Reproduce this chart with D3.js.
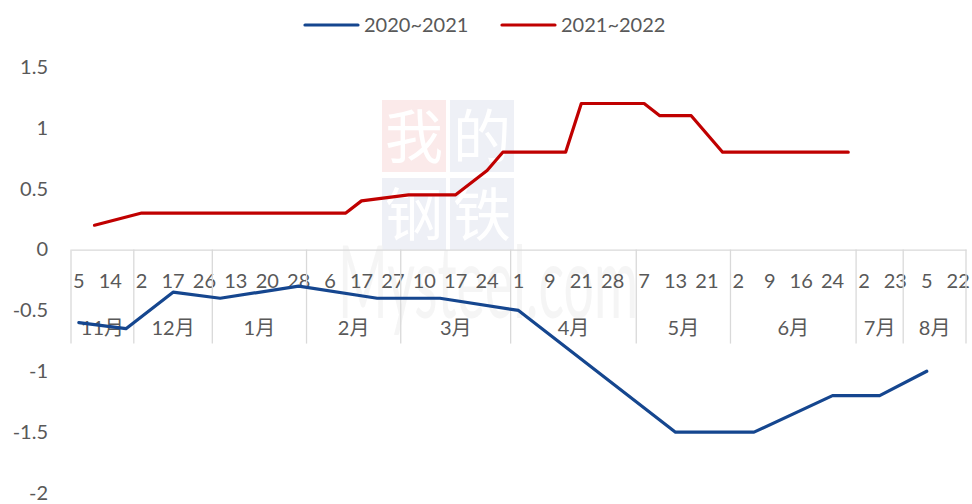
<!DOCTYPE html>
<html>
<head>
<meta charset="utf-8">
<script src="https://cdn.jsdelivr.net/npm/d3@7/dist/d3.min.js"></script>
<style>
  html, body { margin: 0; padding: 0; background: #fff; }
  svg text { font-family: Lato, "Noto Sans CJK SC", sans-serif; }
</style>
</head>
<body>
<svg id="chart" width="972" height="504"></svg>
<script>
// ---- data ----
const months = ["11月", "12月", "1月", "2月", "3月", "4月", "5月", "6月", "7月", "8月"];
const monthDays = [
  [5, 9, 14, 26],
  [2, 10, 17, 21, 26],
  [6, 13, 17, 20, 25, 28],
  [2, 6, 10, 17, 23, 27],
  [3, 10, 14, 17, 21, 24, 31],
  [1, 6, 9, 14, 21, 25, 28, 30],
  [7, 10, 13, 17, 21, 26],
  [2, 6, 9, 13, 16, 20, 24, 28],
  [2, 14, 23],
  [1, 5, 15, 22]
];
const N = null;
const seriesNames = ["2020~2021", "2021~2022"];
const values2020 = [
  -0.6, N, N, -0.65, N, N, -0.35, N, N, -0.4,
  N, N, N, N, -0.3, N, N, N, N, -0.4,
  N, N, N, -0.4, N, N, N, N, -0.5, N,
  N, N, N, N, N, N, N, N, -1.5, N,
  N, N, N, -1.5, N, N, N, N, -1.2, N,
  N, -1.2, N, N, -1.0, N, N
];
const values2021 = [
  N, 0.2, N, N, 0.3, N, N, N, N, N,
  N, N, N, N, N, N, N, 0.3, 0.4, N,
  N, 0.45, N, N, 0.45, N, 0.65, 0.8, N, N,
  N, 0.8, 1.2, N, N, N, 1.2, 1.1, N, 1.1,
  N, 0.8, N, N, N, N, N, N, N, 0.8,
  N, N, N, N, N, N, N
];
const yTicks = [-2, -1.5, -1, -0.5, 0, 0.5, 1, 1.5];
const colors = ["#15468f", "#c00000"];

// ---- build categories ----
const categories = [];
const monthSpans = [];
months.forEach((m, mi) => {
  const start = categories.length;
  monthDays[mi].forEach(d => categories.push({ month: m, day: d }));
  monthSpans.push({ month: m, start, count: monthDays[mi].length });
});
const idx = d3.range(categories.length);

const svg = d3.select("#chart");
const textColor = "#595959";
const gridColor = "#d9d9d9";

const x = d3.scaleBand().domain(idx).range([71, 966]).padding(0);
const bw = x.bandwidth();
const xc = i => x(i) + bw / 2;
const y = d3.scaleLinear().domain([-2, 1.5]).range([493, 67]);
const y0 = y(0);

// ---- watermark ----
const wm = svg.append("g").attr("class", "watermark");
const boxes = [
  { ch: "我", bx: 382, by: 100, fill: "#fbeaea" },
  { ch: "的", bx: 450, by: 100, fill: "#eef0f6" },
  { ch: "钢", bx: 382, by: 178, fill: "#eef0f6" },
  { ch: "铁", bx: 450, by: 178, fill: "#eef0f6" }
];
boxes.forEach(b => {
  wm.append("rect").attr("x", b.bx).attr("y", b.by).attr("width", 64).attr("height", 72).attr("fill", b.fill);
  wm.append("text").attr("x", b.bx + 32).attr("y", b.by + 38).attr("dy", "0.35em")
    .attr("text-anchor", "middle").attr("font-size", 58).attr("fill", "#ffffff").text(b.ch);
});
wm.append("text").attr("x", 338).attr("y", 318).attr("font-size", 100)
  .attr("textLength", 300).attr("lengthAdjust", "spacingAndGlyphs")
  .attr("fill", "#f2f2f2").attr("fill-opacity", 0.8).text("Mysteel.com");

// ---- y axis ----
const yAxis = d3.axisLeft(y).tickValues(yTicks).tickSize(0).tickPadding(8).tickFormat(d => String(d));
const gy = svg.append("g").attr("transform", "translate(56,0)").call(yAxis);
gy.select(".domain").remove();
gy.selectAll("text").attr("font-size", 20).attr("fill", textColor).attr("font-family", "Lato, sans-serif");

// ---- x axis (days) ----
const xAxis = d3.axisBottom(x)
  .tickValues(idx.filter(i => i % 2 === 0))
  .tickFormat(i => categories[i].day)
  .tickSize(0).tickSizeOuter(0);
const gx = svg.append("g").attr("transform", `translate(0,${y0})`).call(xAxis);
gx.select(".domain").attr("stroke", gridColor).attr("stroke-width", 1.3);
gx.selectAll("text").attr("font-size", 20).attr("fill", textColor)
  .attr("y", 31).attr("dy", "0.35em").attr("font-family", "Lato, sans-serif");

// month separators
const sepX = monthSpans.map(s => x(s.start)).concat([x.range()[1]]);
svg.append("g").selectAll("line").data(sepX).join("line")
  .attr("x1", d => d).attr("x2", d => d)
  .attr("y1", y0).attr("y2", y0 + 94)
  .attr("stroke", gridColor).attr("stroke-width", 1.3);

// month labels
svg.append("g").selectAll("text").data(monthSpans).join("text")
  .attr("x", s => x(s.start) + s.count * bw / 2)
  .attr("y", y0 + 78).attr("dy", "0.35em")
  .attr("text-anchor", "middle").attr("font-size", 20).attr("fill", textColor)
  .text(s => s.month);

// ---- lines ----
const allSeries = [values2020, values2021];
const line = d3.line().x(d => xc(d.i)).y(d => y(d.v));
allSeries.forEach((vals, si) => {
  const pts = vals.map((v, i) => ({ i, v })).filter(p => p.v !== null);
  svg.append("path").datum(pts)
    .attr("d", line)
    .attr("fill", "none").attr("stroke", colors[si]).attr("stroke-width", 3.2)
    .attr("stroke-linejoin", "round").attr("stroke-linecap", "round");
});

// ---- legend ----
const legendItems = [{ x1: 305, name: seriesNames[0], c: colors[0] }, { x1: 502, name: seriesNames[1], c: colors[1] }];
const lg = svg.append("g");
legendItems.forEach(l => {
  lg.append("line").attr("x1", l.x1).attr("x2", l.x1 + 53).attr("y1", 25).attr("y2", 25)
    .attr("stroke", l.c).attr("stroke-width", 3.2).attr("stroke-linecap", "round");
  lg.append("text").attr("x", l.x1 + 59).attr("y", 25).attr("dy", "0.35em")
    .attr("font-size", 20).attr("fill", textColor).text(l.name);
});
</script>
</body>
</html>
